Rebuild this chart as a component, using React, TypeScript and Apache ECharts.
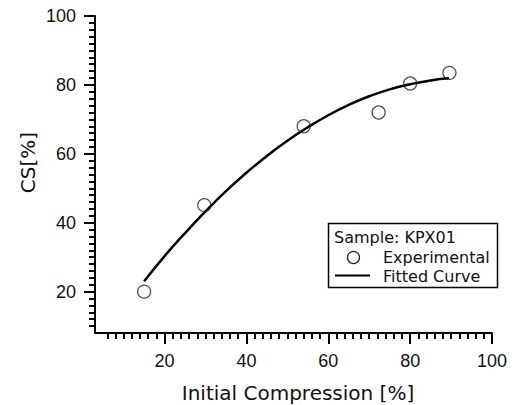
import React, { useEffect, useRef } from "react";
import * as echarts from "echarts";

// Experimental points [Initial Compression %, CS %]
const expX = [15, 29.7, 54, 72.3, 80, 89.6];
const expY = [20, 45.1, 68, 72, 80.4, 83.5];

// Fitted curve
const fitX = [15, 20, 25, 30, 35, 40, 45, 50, 55, 60, 65, 70, 75, 80, 85, 89.5];
const fitY = [23.0, 30.3, 37.0, 43.3, 49.2, 54.5, 59.4, 63.8, 67.7, 71.2, 74.2, 76.7, 78.7, 80.2, 81.3, 81.9];

const xMajorTicks = [20, 40, 60, 80, 100];
const xMinorTicks = [6, 8, 10, 12, 14, 16, 18, 22, 24, 26, 28, 30, 32, 34, 36, 38, 42, 44, 46, 48, 50, 52, 54, 56, 58, 62, 64, 66, 68, 70, 72, 74, 76, 78, 82, 84, 86, 88, 90, 92, 94, 96, 98];
const yMajorTicks = [20, 40, 60, 80, 100];
const yMinorTicks = [10, 12, 14, 16, 18, 22, 24, 26, 28, 30, 32, 34, 36, 38, 42, 44, 46, 48, 50, 52, 54, 56, 58, 62, 64, 66, 68, 70, 72, 74, 76, 78, 82, 84, 86, 88, 90, 92, 94, 96, 98];

const xMin = 3;
const xMax = 100;
const yMin = 8;
const yMax = 100;

const legendTitle = "Sample: KPX01";
const legendExp = "Experimental";
const legendFit = "Fitted Curve";
const xTitle = "Initial Compression [%]";
const yTitle = "CS[%]";

export default function App() {
  const ref = useRef<HTMLDivElement>(null);
  useEffect(() => {
    if (!ref.current) return;
    const chart = echarts.init(ref.current, null, { renderer: "svg" });
    const labelFont = {
      fontFamily: "Liberation Sans",
      fontSize: 18,
      color: "#111",
    };
    const titleFont = "DejaVu Sans";
    chart.setOption({
      animation: false,
      backgroundColor: "#fff",
      grid: { left: 95, right: 23, top: 16, bottom: 72, containLabel: false },
      xAxis: [
        {
          type: "value",
          position: "bottom",
          min: xMin,
          max: xMax,
          axisLine: { show: true, onZero: false, lineStyle: { color: "#000", width: 2 } },
          axisTick: { show: true, customValues: xMajorTicks, length: 11, lineStyle: { color: "#000", width: 2 } },
          axisLabel: { show: true, customValues: xMajorTicks, margin: 19, ...labelFont },
          splitLine: { show: false },
        },
        {
          type: "value",
          position: "bottom",
          min: xMin,
          max: xMax,
          axisLine: { show: false, onZero: false },
          axisTick: { show: true, customValues: xMinorTicks, length: 6, lineStyle: { color: "#000", width: 2 } },
          axisLabel: { show: false },
          splitLine: { show: false },
        },
      ],
      yAxis: [
        {
          type: "value",
          position: "left",
          min: yMin,
          max: yMax,
          axisLine: { show: true, onZero: false, lineStyle: { color: "#000", width: 2 } },
          axisTick: { show: true, customValues: yMajorTicks, length: 11, lineStyle: { color: "#000", width: 2 } },
          axisLabel: { show: true, customValues: yMajorTicks, margin: 19, ...labelFont },
          splitLine: { show: false },
        },
        {
          type: "value",
          position: "left",
          min: yMin,
          max: yMax,
          axisLine: { show: false, onZero: false },
          axisTick: { show: true, customValues: yMinorTicks, length: 6, lineStyle: { color: "#000", width: 2 } },
          axisLabel: { show: false },
          splitLine: { show: false },
        },
      ],
      series: [
        {
          name: legendFit,
          type: "line",
          xAxisIndex: 0,
          yAxisIndex: 0,
          data: fitX.map((x, i) => [x, fitY[i]]),
          smooth: true,
          showSymbol: false,
          symbol: "none",
          lineStyle: { color: "#000", width: 2.5 },
          z: 2,
        },
        {
          name: legendExp,
          type: "scatter",
          xAxisIndex: 0,
          yAxisIndex: 0,
          data: expX.map((x, i) => [x, expY[i]]),
          symbol: "circle",
          symbolSize: 13,
          itemStyle: { color: "rgba(255,255,255,0)", borderColor: "#222", borderWidth: 1.3 },
          z: 3,
        },
      ],
      graphic: [
        {
          type: "text",
          x: 298,
          y: 393,
          style: {
            text: xTitle,
            fontFamily: titleFont,
            fontSize: 20,
            fill: "#111",
            align: "center",
            verticalAlign: "middle",
          },
        },
        {
          type: "text",
          x: 27.5,
          y: 162.5,
          rotation: Math.PI / 2,
          style: {
            text: yTitle,
            fontFamily: titleFont,
            fontSize: 20,
            fill: "#111",
            align: "center",
            verticalAlign: "middle",
          },
        },
        {
          type: "rect",
          shape: { x: 328.5, y: 223.5, width: 169, height: 64 },
          style: { fill: "#fff", stroke: "#000", lineWidth: 1.5 },
          z: 10,
        },
        {
          type: "text",
          x: 334,
          y: 237,
          z: 11,
          style: {
            text: legendTitle,
            fontFamily: titleFont,
            fontSize: 16,
            fill: "#111",
            align: "left",
            verticalAlign: "middle",
          },
        },
        {
          type: "circle",
          shape: { cx: 353.5, cy: 257.5, r: 6 },
          z: 11,
          style: { fill: "rgba(255,255,255,0)", stroke: "#222", lineWidth: 1.3 },
        },
        {
          type: "text",
          x: 383,
          y: 257.5,
          z: 11,
          style: {
            text: legendExp,
            fontFamily: titleFont,
            fontSize: 16,
            fill: "#111",
            align: "left",
            verticalAlign: "middle",
          },
        },
        {
          type: "line",
          shape: { x1: 335, y1: 275.5, x2: 370, y2: 275.5 },
          z: 11,
          style: { stroke: "#000", lineWidth: 2 },
        },
        {
          type: "text",
          x: 383,
          y: 276.5,
          z: 11,
          style: {
            text: legendFit,
            fontFamily: titleFont,
            fontSize: 16,
            fill: "#111",
            align: "left",
            verticalAlign: "middle",
          },
        },
      ],
    });
    return () => chart.dispose();
  }, []);
  return (
    <div
      ref={ref}
      style={{ position: "fixed", left: 0, top: 0, width: 515, height: 405 }}
    />
  );
}
